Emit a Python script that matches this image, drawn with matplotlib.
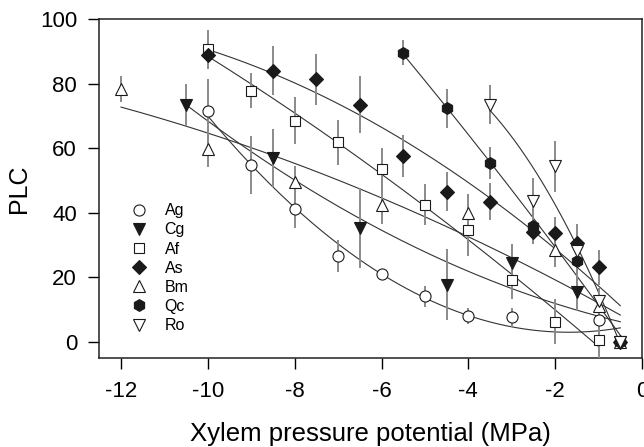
import numpy as np
import matplotlib
matplotlib.use("Agg")
import matplotlib.pyplot as plt

plt.rcParams['font.family'] = ['Liberation Sans', 'DejaVu Sans']
plt.rcParams['axes.unicode_minus'] = False

# species data: xylem pressure potential (MPa), PLC, error
ag_x = [-10, -9, -8, -7, -6, -5, -4, -3, -1, -0.5]
ag_y = [71.5, 54.8, 41.2, 26.6, 21, 14, 8, 7.5, 6.6, 0]
ag_e = [10, 9, 6, 5, 1.5, 3.3, 2.5, 3, 3, 0]

cg_x = [-10.5, -8.5, -6.5, -4.5, -3, -1.5, -0.5]
cg_y = [73.4, 56.9, 35.2, 17.6, 24.4, 15.4, 0]
cg_e = [6.5, 9, 12.3, 11, 6, 6, 0]

af_x = [-10, -9, -8, -7, -6, -5, -4, -3, -2, -1]
af_y = [90.6, 77.8, 68.4, 61.8, 53.5, 42.4, 34.7, 19.2, 6.1, 0.6]
af_e = [6, 5.5, 7.3, 7, 6.5, 6.3, 8.3, 6, 7, 6]

as_x = [-10, -8.5, -7.5, -6.5, -5.5, -4.5, -3.5, -2.5, -2, -1.5, -1, -0.5]
as_y = [88.9, 84, 81.3, 73.4, 57.4, 46.5, 43.4, 34.1, 33.6, 30.5, 23, 0]
as_e = [4, 7.7, 8, 8.8, 6.5, 6, 5.7, 4, 5, 6, 5.5, 0]

bm_x = [-12, -10, -8, -6, -4, -2, -1, -0.5]
bm_y = [78.2, 59.7, 49.4, 42.4, 39.8, 28.5, 10.9, 0]
bm_e = [4, 5.5, 5, 6, 6, 5.5, 4, 0]

qc_x = [-5.5, -4.5, -3.5, -2.5, -1.5, -0.5]
qc_y = [89.6, 72.3, 55.3, 35.7, 24.9, 0]
qc_e = [4, 6, 5, 5, 6, 0]

ro_x = [-3.5, -2.5, -2, -1.5, -1, -0.5]
ro_y = [73.4, 43.7, 54.3, 28, 12.5, 0]
ro_e = [6, 7, 8, 5, 4, 0]

series = [
    ("Ag", ag_x, ag_y, ag_e, "o", "white", 8),
    ("Cg", cg_x, cg_y, cg_e, "v", "#1a1a1a", 8.5),
    ("Af", af_x, af_y, af_e, "s", "white", 7),
    ("As", as_x, as_y, as_e, "D", "#1a1a1a", 7),
    ("Bm", bm_x, bm_y, bm_e, "^", "white", 8.5),
    ("Qc", qc_x, qc_y, qc_e, "h", "#1a1a1a", 8.5),
    ("Ro", ro_x, ro_y, ro_e, "v", "white", 8.5),
]

fig = plt.figure(figsize=(6.44, 4.47), dpi=100)
ax = fig.add_axes([0.1542, 0.1998, 0.8427, 0.7577])

handles = []
for name, x, y, e, mk, fc, ms in series:
    x = np.array(x)
    y = np.array(y)
    # quadratic regression line over the data range
    coef = np.polyfit(x, y, 2)
    xf = np.linspace(x.min(), x.max(), 200)
    ax.plot(xf, np.polyval(coef, xf), color="#333333", lw=0.8, zorder=2)
    ax.errorbar(x, y, yerr=e, fmt="none", ecolor="#8a8a8a", elinewidth=1.4,
                capsize=0, zorder=3)
    h, = ax.plot(x, y, linestyle="none", marker=mk, ms=ms, mfc=fc,
                 mec="#1a1a1a", mew=0.8, zorder=4, label=name)
    handles.append(h)

ax.set_xlim(-12.5, 0)
ax.set_ylim(-5, 100)
ax.set_xticks([-12, -10, -8, -6, -4, -2, 0])
ax.set_yticks([0, 20, 40, 60, 80, 100])
ax.tick_params(axis="both", direction="out", length=8, width=1,
               labelsize=16, top=False, right=False)
ax.tick_params(axis="y", pad=8)
ax.tick_params(axis="x", pad=9)
for s in ax.spines.values():
    s.set_linewidth(1.1)
    s.set_color("#222222")

ax.set_xlabel("Xylem pressure potential (MPa)", fontsize=18.5, labelpad=14)
ax.set_ylabel("PLC", fontsize=18, labelpad=6)

ax.legend(handles=handles, loc="upper left", bbox_to_anchor=(0.047, 0.475),
          frameon=False, fontsize=11.5, handlelength=1, handletextpad=1.1,
          labelspacing=0.26, borderaxespad=0)

fig.savefig("out.png", dpi=100)
